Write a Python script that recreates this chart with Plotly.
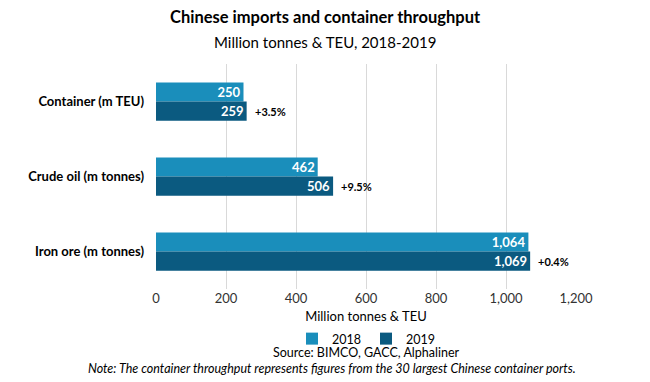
import plotly.graph_objects as go

categories = ["Container (m TEU)", "Crude oil (m tonnes)", "Iron ore (m tonnes)"]
values_2018 = [250, 462, 1064]
values_2019 = [259, 506, 1069]
pct_labels = ["+3.5%", "+9.5%", "+0.4%"]
x_ticks = [0, 200, 400, 600, 800, 1000, 1200]

FONT = "Lato"
c2018 = "#1a8ebb"
c2019 = "#0b5a80"

PT, PB, PL, PR = 64, 289, 156, 576


def py(px):
    return (PB - px) / (PB - PT)


def pxr(px):
    return (px - PL) / (PR - PL)


fig = go.Figure()
for name, vals, col in [("2018", values_2018, c2018), ("2019", values_2019, c2019)]:
    fig.add_trace(go.Bar(
        y=categories, x=vals, name=name, orientation="h",
        marker=dict(color=col, line=dict(width=0)),
        texttemplate="%{x:,}", textposition="inside", insidetextanchor="end",
        textfont=dict(family=FONT, size=13, color="white", weight="bold"),
        constraintext="none", hoverinfo="skip",
    ))

for cat, v, lab in zip(categories, values_2019, pct_labels):
    fig.add_annotation(x=v, y=cat, text=lab, showarrow=False, xanchor="left",
                       xshift=6, yshift=-10,
                       font=dict(family=FONT, size=11, color="black", weight="bold"))

fig.add_annotation(xref="paper", yref="paper", x=pxr(325), y=py(17), yanchor="middle",
                   text="<b>Chinese imports and container throughput</b>",
                   showarrow=False, font=dict(family=FONT, size=16.5, color="black"))
fig.add_annotation(xref="paper", yref="paper", x=pxr(325), y=py(42), yanchor="middle",
                   text="Million tonnes & TEU, 2018-2019",
                   showarrow=False, font=dict(family=FONT, size=15, color="black"))
fig.add_annotation(xref="paper", yref="paper", x=pxr(366), y=py(352.5), yanchor="middle",
                   text="Source: BIMCO, GACC, Alphaliner",
                   showarrow=False, font=dict(family=FONT, size=12.5, color="black"))
fig.add_annotation(xref="paper", yref="paper", x=pxr(332), y=py(368), yanchor="middle",
                   text="<i>Note: The container throughput represents figures from the 30 largest Chinese container ports.</i>",
                   showarrow=False, font=dict(family=FONT, size=12.5, color="black"))

fig.update_layout(
    width=650, height=382,
    margin=dict(l=PL, r=650 - PR, t=PT, b=382 - PB),
    paper_bgcolor="white", plot_bgcolor="white",
    barmode="group", bargap=0.49, bargroupgap=0,
    font=dict(family=FONT, color="black"),
    showlegend=True,
    legend=dict(orientation="h", x=pxr(366), xanchor="center", yref="container",
                y=1 - 339 / 382, yanchor="middle",
                font=dict(family=FONT, size=12.5, color="black"), itemwidth=30,
                traceorder="normal", tracegroupgap=0),
    xaxis=dict(range=[0, 1200], tickvals=x_ticks, tickformat=",", showgrid=True,
               gridcolor="#d9d9d9", zeroline=False, showline=False, automargin=False,
               tickfont=dict(family=FONT, size=13, color="#333333"),
               title=dict(text="Million tonnes & TEU", font=dict(family=FONT, size=13, color="black"), standoff=10)),
    yaxis=dict(autorange="reversed", showgrid=False, zeroline=False, showline=False,
               ticks="", ticklabelstandoff=11, automargin=False,
               tickfont=dict(family=FONT, size=13, color="black", weight="bold")),
)

fig.write_html("out.html", config={"displayModeBar": False},
               post_script="document.body.style.margin='0';")
